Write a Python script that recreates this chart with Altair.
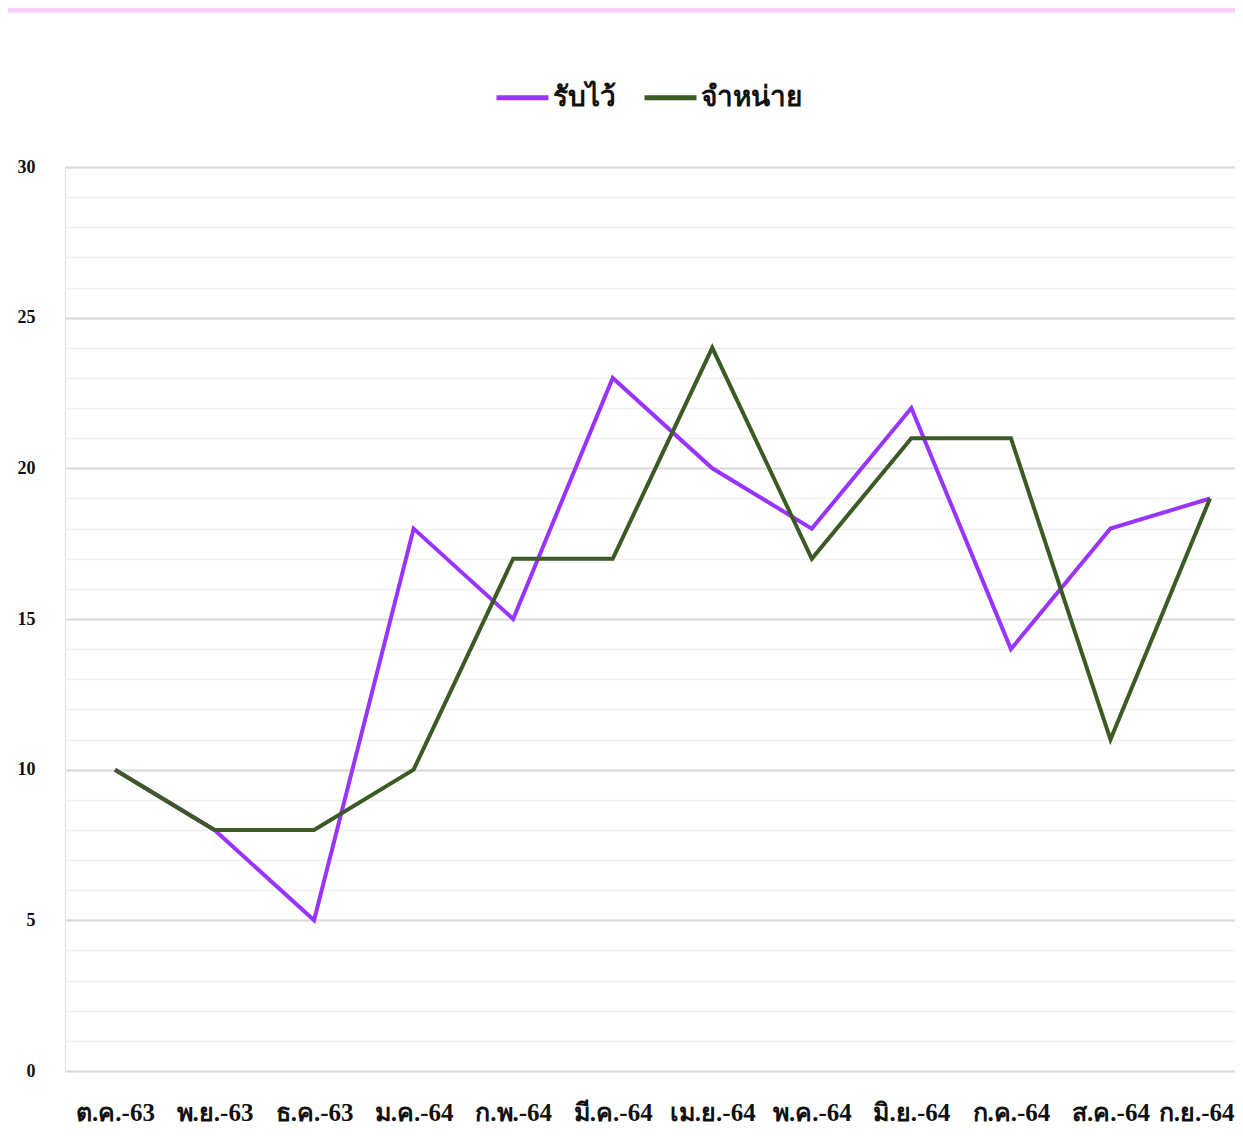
import altair as alt
import pandas as pd

months = ["ต.ค.-63", "พ.ย.-63", "ธ.ค.-63", "ม.ค.-64", "ก.พ.-64", "มี.ค.-64",
          "เม.ย.-64", "พ.ค.-64", "มิ.ย.-64", "ก.ค.-64", "ส.ค.-64", "ก.ย.-64"]
admitted = [10, 8, 5, 18, 15, 23, 20, 18, 22, 14, 18, 19]
discharged = [10, 8, 8, 10, 17, 17, 24, 17, 21, 21, 11, 19]
series_names = ["รับไว้", "จำหน่าย"]
series_colors = ["#9933FF", "#3B5A24"]

rows = []
for i, m in enumerate(months):
    rows.append({"idx": i, "month": m, "series": series_names[0], "value": admitted[i]})
for i, m in enumerate(months):
    rows.append({"idx": i, "month": m, "series": series_names[1], "value": discharged[i]})
df = pd.DataFrame(rows)

FONT = "Liberation Serif"
label_arr = "[" + ",".join("'" + m + "'" for m in months) + "]"

xscale = alt.Scale(domain=[-0.502, 11.251], nice=False, zero=False)
yscale = alt.Scale(domain=[0, 30], nice=False)

xaxis = alt.Axis(values=list(range(12)), labelExpr=label_arr + "[datum.value]",
                 grid=False, ticks=False, domain=False, title=None,
                 labelFont=FONT, labelFontSize=25, labelFontWeight="bold",
                 labelColor="#111111", labelPadding=29, labelFlush=30,
                 labelFlushOffset=24, labelOverlap=False, labelBound=False)

base = alt.Chart(df)

minor = base.mark_line(opacity=0).encode(
    x=alt.X("idx:Q", scale=xscale, axis=xaxis),
    y=alt.Y("value:Q", scale=yscale,
            axis=alt.Axis(values=list(range(0, 31)), grid=True, gridColor="#F0F0F0",
                          gridWidth=1.5, labels=False, ticks=False, domain=False,
                          title=None, orient="left")),
)

lines = base.mark_line(strokeWidth=4, strokeJoin="miter").encode(
    x=alt.X("idx:Q", scale=xscale, axis=xaxis),
    y=alt.Y("value:Q", scale=yscale,
            axis=alt.Axis(values=list(range(0, 31, 5)), grid=True, gridColor="#D9D9D9",
                          gridWidth=2, ticks=False, domain=False, title=None,
                          labelFont=FONT, labelFontSize=18, labelFontWeight="bold",
                          labelColor="#111111", labelPadding=30, orient="left")),
    color=alt.Color("series:N",
                    scale=alt.Scale(domain=series_names, range=series_colors),
                    sort=series_names,
                    legend=alt.Legend(orient="none", legendX=429, legendY=-98,
                                      direction="horizontal", title=None,
                                      symbolType="stroke", symbolSize=2700,
                                      symbolStrokeWidth=5, labelFont=FONT,
                                      labelFontSize=28, labelFontWeight="bold",
                                      labelColor="#111111", columnPadding=18,
                                      labelOffset=2, labelLimit=300)),
    detail="series:N",
)

topbar = alt.Chart(alt.Data(values=[{}])).mark_rule(color="#FFCCFF", strokeWidth=5).encode(
    x=alt.value(-70), x2=alt.value(1250), y=alt.value(-157)
)

chart = alt.layer(minor, lines, topbar).resolve_axis(y="independent").properties(
    width=1170, height=904,
    padding={"left": 57, "top": 159, "right": 0, "bottom": 55},
    autosize=alt.AutoSizeParams(type="none"),
).configure_view(stroke="transparent", strokeOpacity=0, strokeWidth=0).configure_axis(
    domain=False, ticks=False
).configure(background="white")

chart.save("out.html", embed_options={"renderer": "svg", "actions": False})
